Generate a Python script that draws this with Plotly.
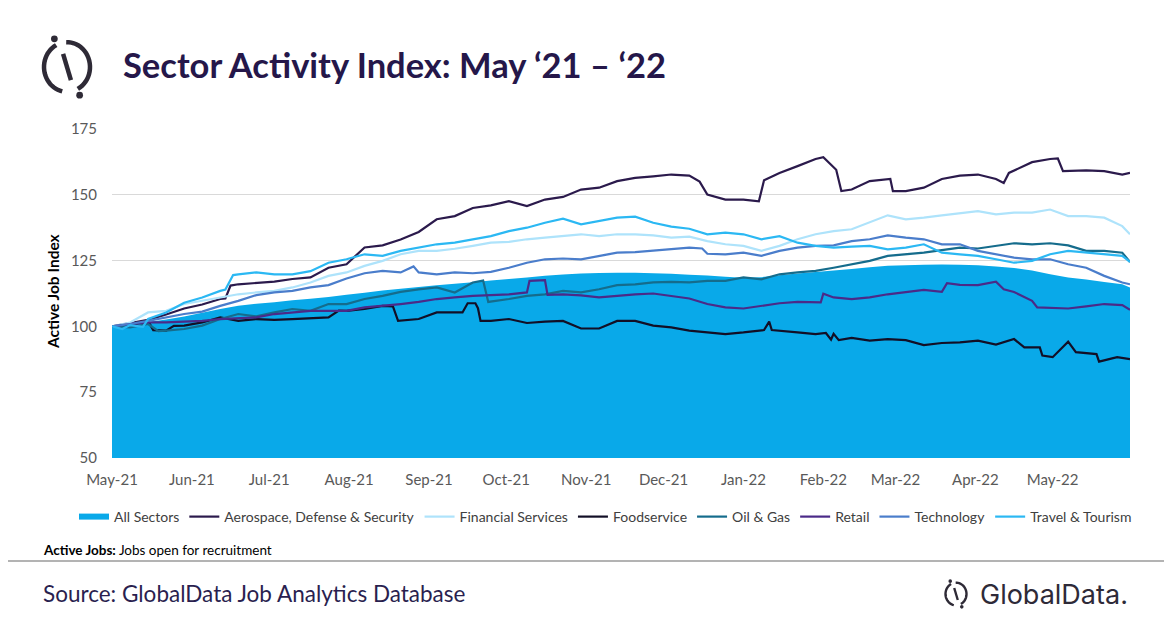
import math
import pandas as pd
import plotly.graph_objects as go

# ── data: (days since 1 May 2021, index value) ──
ALL_SECTORS = [(0, 100), (7, 100.8), (14, 101.7), (21, 102.6), (28, 103.8), (35, 105.2), (42, 106.6), (49, 107.8),
               (56, 108.6), (63, 109.2), (70, 109.9), (77, 110.5), (84, 111.2), (91, 112), (98, 112.8), (105, 113.6),
               (112, 114.3), (119, 115), (126, 115.6), (133, 116.2), (140, 116.8), (147, 117.4), (154, 118),
               (161, 118.6), (168, 119.2), (175, 119.7), (182, 120.1), (189, 120.3), (196, 120.4), (203, 120.4),
               (210, 120.2), (217, 120), (224, 119.6), (231, 119.3), (238, 118.9), (245, 118.5), (252, 118.7),
               (259, 119.4), (266, 120.1), (273, 120.7), (280, 121.2), (287, 121.8), (294, 122.5), (301, 123),
               (308, 123.2), (315, 123.4), (322, 123.5), (329, 123.4), (336, 123.2), (343, 122.8), (350, 122.2),
               (357, 121.2), (364, 119.8), (371, 118.6), (378, 117.8), (385, 116.9), (392, 116), (395, 114.8)]

AEROSPACE = [(0, 100), (7, 101.3), (14, 102.5), (21, 104.5), (28, 106.8), (35, 108.3), (42, 110.4), (44, 110.6),
             (46, 115.5), (49, 116), (56, 116.4), (63, 117), (70, 118), (77, 118.6), (84, 122.3), (91, 123.6),
             (98, 130), (105, 130.8), (112, 133), (119, 135.9), (126, 140.7), (133, 141.9), (140, 145), (147, 146),
             (154, 147.6), (161, 145.7), (168, 148.2), (175, 149.2), (182, 152), (189, 152.7), (196, 155.2),
             (203, 156.4), (210, 157), (217, 157.7), (224, 157.3), (228, 155), (231, 150.1), (238, 148.2),
             (245, 148.2), (251, 147.5), (253, 155.5), (259, 158.3), (266, 160.9), (273, 163.6), (276, 164.3),
             (281, 159.5), (283, 151.4), (287, 152), (294, 155.2), (302, 156), (303, 151.4), (308, 151.4),
             (315, 152.7), (322, 156), (329, 157.3), (336, 157.7), (343, 156), (346, 154.5), (348, 158.3),
             (357, 162.4), (364, 163.6), (367, 163.8), (369, 159), (378, 159.3), (385, 159), (392, 157.7),
             (395, 158.3)]

FINANCIAL = [(0, 100), (7, 101.5), (14, 105.3), (21, 105.9), (28, 108.5), (35, 109.7), (42, 111), (49, 112.2),
             (56, 112.9), (63, 113.5), (70, 114.8), (77, 116.7), (84, 119.2), (91, 120.5), (98, 123), (105, 124.9),
             (112, 127.4), (119, 128.7), (126, 128.7), (133, 129.5), (140, 130.6), (147, 131.8), (154, 132.1),
             (161, 133.1), (168, 133.7), (175, 134.3), (182, 135), (189, 134.3), (196, 135), (203, 135),
             (210, 134.6), (217, 133.7), (224, 134.1), (231, 132.4), (238, 131.2), (245, 130.6), (252, 128.7),
             (259, 130.6), (266, 133.1), (273, 135), (280, 136.2), (287, 136.9), (294, 139.4), (301, 142.2),
             (308, 140.7), (315, 141.3), (322, 142.2), (329, 142.9), (336, 143.8), (343, 142.6), (350, 143.2),
             (357, 143.2), (364, 144.4), (371, 141.9), (378, 141.9), (385, 141.3), (392, 138.1), (395, 135)]

FOODSERVICE = [(0, 100), (7, 100.5), (14, 102.1), (16, 98.6), (21, 98.4), (24, 100.2), (28, 100.3), (35, 101.5),
               (42, 103.4), (49, 102.1), (56, 102.8), (63, 102.5), (70, 102.8), (77, 103), (84, 103.4), (88, 106),
               (91, 105.9), (98, 106.6), (105, 107.8), (109, 107.6), (111, 102.1), (119, 102.8), (126, 105.3),
               (136, 105.3), (138, 108.8), (141, 108.8), (142, 106.9), (143, 102.1), (147, 102.1), (154, 102.8),
               (161, 101.3), (168, 101.8), (175, 102.1), (182, 99.2), (189, 99.2), (196, 102.1), (203, 102.1),
               (210, 100.3), (217, 99.6), (224, 98.4), (231, 97.7), (238, 97.1), (245, 97.7), (253, 98.6),
               (255, 101.8), (256, 98.6), (266, 97.7), (273, 97.1), (277, 97.5), (279, 95), (280, 97.2), (282, 94.8),
               (287, 95.6), (294, 94.6), (301, 95.2), (308, 94.8), (315, 92.9), (322, 93.7), (329, 93.9),
               (336, 94.6), (343, 93.1), (350, 95.2), (354, 92), (360, 92), (361, 88.9), (365, 88.3), (371, 94.2),
               (374, 90.2), (382, 89.5), (383, 86.6), (390, 88.3), (395, 87.6)]

OIL_GAS = [(0, 100), (7, 99.6), (14, 100.9), (18, 98.2), (21, 98.4), (28, 99), (35, 100.3), (42, 102.8), (49, 104.7),
           (56, 103.8), (63, 105.3), (70, 106.6), (77, 105.9), (84, 108.5), (91, 108.5), (98, 110.4), (105, 111.6),
           (112, 113.1), (119, 114.1), (126, 114.8), (133, 112.9), (140, 116.7), (144, 117.4), (146, 109.3),
           (154, 110.4), (161, 111.6), (168, 112.2), (175, 113.5), (182, 112.9), (189, 114.1), (196, 115.7),
           (203, 116), (210, 116.7), (217, 116.9), (224, 116.7), (231, 117.3), (238, 117.3), (245, 118.6),
           (252, 117.9), (259, 119.8), (266, 120.5), (273, 121.1), (280, 122.3), (287, 123.6), (294, 124.9),
           (301, 126.8), (308, 127.4), (315, 128), (322, 129), (329, 129.9), (336, 129.6), (343, 130.6),
           (350, 131.6), (357, 131.2), (364, 131.6), (371, 130.8), (378, 128.7), (385, 128.7), (392, 128),
           (395, 124.5)]

RETAIL = [(0, 100), (7, 100.9), (14, 101.5), (21, 101.5), (28, 101.8), (35, 102.1), (42, 102.8), (49, 103.2),
          (56, 103.4), (63, 104.7), (70, 105.3), (77, 105.9), (84, 105.9), (91, 105.9), (98, 107.2), (105, 107.8),
          (112, 108.5), (119, 109.3), (126, 110.4), (133, 111), (140, 111.6), (147, 111.9), (154, 112.2),
          (161, 112.9), (162, 117.3), (168, 117.6), (169, 112), (175, 112.2), (182, 111.8), (189, 111),
          (196, 111.6), (203, 112.2), (210, 112.5), (217, 111.6), (224, 110.6), (231, 108.5), (238, 107.2),
          (245, 106.8), (252, 107.8), (259, 108.8), (266, 109.3), (275, 109.1), (276, 112.4), (280, 111),
          (287, 110.4), (294, 111), (301, 112.2), (308, 113.1), (315, 113.9), (322, 113.1), (324, 116.4),
          (329, 115.8), (336, 115.7), (343, 117), (346, 114.1), (350, 113.1), (357, 109.7), (359, 107.2),
          (364, 107.1), (371, 106.8), (378, 107.6), (385, 108.5), (392, 108.1), (395, 106.3)]

TECHNOLOGY = [(0, 100), (7, 100.9), (14, 102.1), (21, 103.4), (28, 104.7), (35, 105.6), (42, 107.8), (49, 109.7),
              (56, 111.9), (63, 112.9), (70, 113.5), (77, 114.8), (84, 115.7), (91, 118.2), (98, 120.2),
              (105, 121.1), (112, 120.5), (117, 122.8), (119, 120.5), (126, 119.8), (133, 120.5), (140, 120.2),
              (147, 120.7), (154, 122.3), (161, 124.2), (168, 125.5), (175, 125.8), (182, 125.5), (189, 126.8),
              (196, 128), (203, 128.2), (210, 128.7), (217, 129.3), (224, 129.9), (229, 129.6), (231, 127.6),
              (238, 127.4), (245, 128), (252, 126.8), (259, 128.7), (266, 129.9), (273, 130.6), (280, 130.8),
              (287, 132.4), (294, 133.1), (301, 134.6), (308, 133.7), (315, 133.1), (322, 131.2), (329, 131.2),
              (336, 128.7), (343, 127.4), (350, 126.1), (357, 125.5), (364, 125.5), (371, 123.6), (378, 122.3),
              (385, 119.2), (392, 116.7), (395, 116)]

TRAVEL = [(0, 100), (4, 99), (7, 100.5), (12, 99.8), (14, 102.8), (21, 105.3), (28, 109), (35, 111), (42, 113.5),
          (44, 114), (47, 119.5), (49, 119.8), (56, 120.5), (63, 119.8), (70, 119.8), (77, 121), (84, 124.2),
          (91, 125.5), (98, 127.4), (105, 126.8), (112, 128.7), (119, 129.9), (126, 131.2), (133, 131.8),
          (140, 133.1), (147, 134.3), (154, 136.2), (161, 137.5), (168, 139.4), (175, 140.9), (182, 138.8),
          (189, 140), (196, 141.3), (203, 141.7), (210, 139.4), (217, 137.9), (224, 137.1), (231, 135), (238, 135.6),
          (245, 135), (252, 133.1), (259, 134.3), (266, 131.8), (273, 130.6), (280, 129.9), (287, 130.3),
          (294, 130.6), (301, 129.3), (308, 129.9), (315, 131.2), (322, 128), (329, 127.4), (336, 126.8),
          (343, 125.5), (350, 124.2), (357, 124.9), (364, 127.4), (371, 128.7), (378, 128), (385, 127.4),
          (392, 126.8), (395, 124.5)]

LINE_SERIES = [
    ("Aerospace, Defense & Security", AEROSPACE, "#2b1a4c"),
    ("Financial Services", FINANCIAL, "#aee3fb"),
    ("Foodservice", FOODSERVICE, "#120f26"),
    ("Oil & Gas", OIL_GAS, "#156c8c"),
    ("Retail", RETAIL, "#4b2a88"),
    ("Technology", TECHNOLOGY, "#4a7dcb"),
    ("Travel & Tourism", TRAVEL, "#2bb8f3"),
]
MONTH_TICKS = pd.date_range("2021-05-01", "2022-05-01", freq="MS")
START = pd.Timestamp("2021-05-01")

FONT = "Lato, 'Open Sans', sans-serif"
OFF = 8  # the page body margin shifts the figure by 8px; coordinates below are window pixels
W, H = 1172 - OFF, 628 - OFF
L, T = 112 - OFF, 129 - OFF
R, B = 42, 170
PW, PH = W - L - R, H - T - B


def to_dates(series):
    return [START + pd.Timedelta(days=d) for d, _ in series]


def px(x):  # window pixel -> paper x
    return (x - OFF - L) / PW


def py(y):  # window pixel -> paper y
    return (T + PH - (y - OFF)) / PH


fig = go.Figure()
fig.add_trace(go.Scatter(
    x=to_dates(ALL_SECTORS), y=[v for _, v in ALL_SECTORS], name="All Sectors",
    mode="none", fill="tozeroy", fillcolor="#09a9e9",
))
for name, series, color in LINE_SERIES:
    fig.add_trace(go.Scatter(
        x=to_dates(series), y=[v for _, v in series], name=name, mode="lines",
        line=dict(color=color, width=2.2),
    ))


# ── logo marks (GlobalData icon: broken ring with a slash and two dots) ──
def ring_icon(cx, cy, r, width, color):
    shapes = []

    def arc(a0, a1):
        pts = []
        for k in range(25):
            a = math.radians(a0 + (a1 - a0) * k / 24)
            pts.append((cx + r * math.cos(a), cy - 1.08 * r * math.sin(a)))
        return "M " + " L ".join(f"{px(x):.5f},{py(y):.5f}" for x, y in pts)

    for a0, a1 in [(118, 258), (-62, 92)]:
        shapes.append(dict(type="path", path=arc(a0, a1), xref="paper", yref="paper",
                           line=dict(color=color, width=width)))
    top = (cx + 0.55 * r * math.cos(math.radians(108)), cy - 0.6 * r * math.sin(math.radians(108)))
    bot = (cx + 0.55 * r * math.cos(math.radians(-72)), cy - 0.6 * r * math.sin(math.radians(-72)))
    shapes.append(dict(type="line", xref="paper", yref="paper", x0=px(top[0]), y0=py(top[1]),
                       x1=px(bot[0]), y1=py(bot[1]), line=dict(color=color, width=width)))
    for ang in (115, -65):
        dx = cx + 1.3 * r * math.cos(math.radians(ang))
        dy = cy - 1.35 * r * math.sin(math.radians(ang))
        d = width * 0.75
        shapes.append(dict(type="circle", xref="paper", yref="paper", x0=px(dx - d), x1=px(dx + d),
                           y0=py(dy - d), y1=py(dy + d), fillcolor=color, line=dict(width=0)))
    return shapes


shapes = ring_icon(67, 67, 23, 4.5, "#2e2a36") + ring_icon(956, 594, 10.5, 2.4, "#2e2a36")
shapes.append(dict(type="line", xref="paper", yref="paper", x0=px(0), x1=px(1172), y0=py(561), y1=py(561),
                   line=dict(color="#9a9a9a", width=1.5)))

annotations = [
    dict(text="Active Job Index", textangle=-90, x=px(53), y=py(291), xref="paper", yref="paper",
         xanchor="center", yanchor="middle", showarrow=False,
         font=dict(family=FONT, size=15.5, color="#000000", weight="bold")),
    dict(text="<b>Active Jobs:</b> Jobs open for recruitment", x=px(41), y=py(550), xref="paper", yref="paper",
         xanchor="left", yanchor="middle", showarrow=False, font=dict(family=FONT, size=13.5, color="#000000")),
    dict(text="Source: GlobalData Job Analytics Database", x=px(41), y=py(593), xref="paper", yref="paper",
         xanchor="left", yanchor="middle", showarrow=False, font=dict(family=FONT, size=22.5, color="#2a1f4f")),
    dict(text="GlobalData.", x=px(978), y=py(594), xref="paper", yref="paper", xanchor="left", yanchor="middle",
         showarrow=False, font=dict(family="Inter, Lato, sans-serif", size=27, color="#2e2a38")),
]

fig.update_layout(
    width=W, height=H,
    margin=dict(l=L, r=R, t=T, b=B),
    paper_bgcolor="white", plot_bgcolor="white",
    font=dict(family=FONT, color="#595959"),
    title=dict(text="<b>Sector Activity Index: May ‘21 – ‘22</b>", x=(123 - OFF) / W, xanchor="left",
               y=1 - (66 - OFF) / H, yanchor="middle", font=dict(family=FONT, size=34.5, color="#25174a")),
    xaxis=dict(range=[START, START + pd.Timedelta(days=395)], tickvals=list(MONTH_TICKS), tickformat="%b-%y",
               showgrid=False, zeroline=False, showline=False, ticks="", ticklabelstandoff=11,
               tickfont=dict(size=15, color="#595959")),
    yaxis=dict(range=[50, 175], dtick=25, showgrid=True, gridcolor="#d9d9d9", gridwidth=1, zeroline=False,
               ticks="", ticklabelstandoff=14, tickfont=dict(size=15, color="#595959")),
    legend=dict(orientation="h", x=px(74), xanchor="left", y=py(517), yanchor="middle",
                font=dict(family=FONT, size=14, color="#404040"), itemwidth=30, tracegroupgap=0),
    showlegend=True,
    shapes=shapes,
    annotations=annotations,
)

fig.write_html("out.html")
